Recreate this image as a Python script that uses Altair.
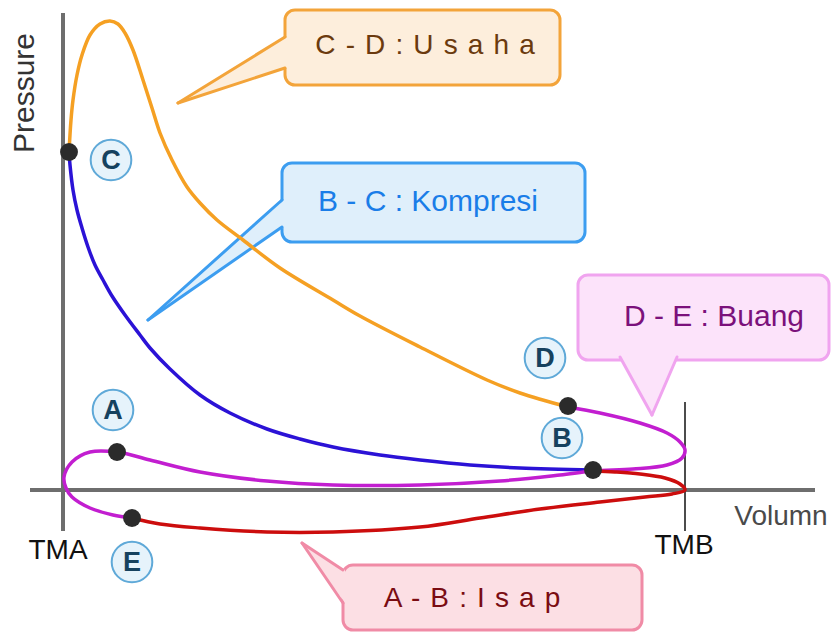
import altair as alt
import pandas as pd

# ---------------- data (volume V: TMA = 0, TMB = 622 ; pressure P: axis = 0) -------------
# C -> D : Usaha (power stroke)
usaha_v = [6, 8, 10, 14, 19, 27, 37, 47, 55, 62, 70, 80, 89, 97, 109, 124, 137, 154, 180, 217, 270, 297, 357, 424, 457, 505]
usaha_p = [338, 370, 390, 415, 435, 455, 466, 469, 466, 457, 440, 410, 382, 357, 330, 303, 287, 270, 250, 222, 190, 174, 143, 110, 97, 83]

# B -> C : Kompresi
kompresi_v = [6, 7, 10, 14, 19, 25, 32, 40, 49, 62, 77, 87, 107, 137, 167, 204, 237, 270, 317, 357, 407, 457, 530]
kompresi_p = [338, 325, 300, 280, 262, 243, 225, 210, 194, 175, 155, 142, 121, 95, 77, 61, 51, 43, 35, 30, 25, 22, 20]

# D -> E : Buang
buang_v = [505, 537, 577, 604, 617, 622, 619, 604, 570, 530, 497, 437, 357, 270, 204, 137, 87, 54, 27, 9, 1, 3, 9, 27, 50, 69]
buang_p = [83, 77, 67, 57, 48, 40, 32, 25, 21, 19, 15, 9, 5, 5, 9, 18, 30, 38, 38, 28, 13, 2, -7, -18, -25, -28]

# A -> B : Isap
isap_v = [69, 97, 137, 204, 270, 357, 417, 477, 537, 582, 609, 622, 617, 602, 577, 552, 530]
isap_p = [-28, -34, -38, -42, -42, -37, -28, -19, -12, -7, -4, 0, 6, 12, 16, 18, 19]

# state points
point_names = ["C", "A", "E", "D", "B"]
point_v = [6, 54, 69, 505, 530]
point_p = [338, 38, -28, 84, 20]
label_v = [48, 50, 69, 482, 499]
label_p = [330, 80, -72, 132, 52]

# axes
axis_v0 = [0, -33, 622]
axis_p0 = [477, 0, 88]
axis_v1 = [0, 752, 622]
axis_p1 = [-41, 0, -41]

# callouts: box (v0, v1, p0, p1), text anchor, pointer tip, pointer base
sep = " \u200a"
callout_names = ["usaha", "kompresi", "buang", "isap"]
callout_text = [sep.join(list("C-D:Usaha")), "B - C : Kompresi", "D - E : Buang", sep.join(list("A-B:Isap"))]
box_v0 = [222, 219, 515, 280]
box_v1 = [497, 522, 766, 579]
box_p0 = [405, 248, 130, -140]
box_p1 = [480, 327, 215, -75]
text_v = [362, 365, 651, 409]
text_p = [444, 288, 173, -109]
tip_v = [115, 85, 589, 239]
tip_p = [387, 170, 75, -53]
# pointer bases: for vertical-edge pointers (v, p_a, p_b); for bottom-edge pointer (p, v_a, v_b)
base_a = [(224, 453, 422), (221, 290, 263), (132, 557, 614), (282, -80, -113)]

# ---------------- styles ----------------
FONT = "Liberation Sans"
curve_colors = {"usaha": "#f5a023", "kompresi": "#2b12d6", "buang": "#c21ed0", "isap": "#cc0d0d"}
box_fill = {"usaha": "#fdeedc", "kompresi": "#dfeffb", "buang": "#fce3fa", "isap": "#fcdfe4"}
box_stroke = {"usaha": "#f3a43a", "kompresi": "#3c9df0", "buang": "#f0a4ef", "isap": "#f08ba6"}
text_color = {"usaha": "#6b3a0e", "kompresi": "#1a7de8", "buang": "#7b117b", "isap": "#7a0c12"}
text_size = {"usaha": 28, "kompresi": 30, "buang": 30, "isap": 28}

xs = alt.Scale(domain=[-55, 768], nice=False, zero=False)
ys = alt.Scale(domain=[-142, 482], nice=False, zero=False)


def X(f="v"):
    return alt.X(f"{f}:Q", scale=xs, axis=None)


def Y(f="p"):
    return alt.Y(f"{f}:Q", scale=ys, axis=None)


layers = []

# axes
axes_df = pd.DataFrame({"v": axis_v0, "p": axis_p0, "v2": axis_v1, "p2": axis_p1, "k": ["y", "x", "tmb"]})
layers.append(alt.Chart(axes_df[axes_df.k != "tmb"]).mark_rule(color="#6e6e6e", strokeWidth=4).encode(
    x=X(), y=Y(), x2="v2:Q", y2="p2:Q"))
layers.append(alt.Chart(axes_df[axes_df.k == "tmb"]).mark_rule(color="#111111", strokeWidth=1.5).encode(
    x=X(), y=Y(), x2="v2:Q", y2="p2:Q"))

# callout boxes + pointers
for i, name in enumerate(callout_names):
    bdf = pd.DataFrame({"v": [box_v0[i]], "v2": [box_v1[i]], "p": [box_p0[i]], "p2": [box_p1[i]]})
    layers.append(alt.Chart(bdf).mark_rect(fill=box_fill[name], stroke=box_stroke[name], strokeWidth=3,
                                           cornerRadius=10).encode(x=X(), x2="v2:Q", y=Y(), y2="p2:Q"))
    b = base_a[i]
    if name == "buang":
        adf = pd.DataFrame({"p": [b[0], tip_p[i]], "v": [b[1], tip_v[i]], "v2": [b[2], tip_v[i]]})
        layers.append(alt.Chart(adf).mark_area(orient="horizontal", color=box_fill[name], opacity=1).encode(
            y=Y(), x=X(), x2="v2:Q"))
        edges = pd.DataFrame({"v": [tip_v[i], tip_v[i]], "p": [tip_p[i], tip_p[i]],
                              "v2": [b[1], b[2]], "p2": [b[0] + 1, b[0] + 1]})
    else:
        adf = pd.DataFrame({"v": [tip_v[i], b[0]], "p": [tip_p[i], b[1]], "p2": [tip_p[i], b[2]]})
        layers.append(alt.Chart(adf).mark_area(orient="vertical", color=box_fill[name], opacity=1).encode(
            x=X(), y=Y(), y2="p2:Q"))
        edges = pd.DataFrame({"v": [tip_v[i], tip_v[i]], "p": [tip_p[i], tip_p[i]],
                              "v2": [b[0] - 2, b[0] - 2], "p2": [b[1], b[2]]})
    layers.append(alt.Chart(edges).mark_rule(color=box_stroke[name], strokeWidth=3, strokeCap="round").encode(
        x=X(), y=Y(), x2="v2:Q", y2="p2:Q"))
    tdf = pd.DataFrame({"v": [text_v[i]], "p": [text_p[i]], "t": [callout_text[i]]})
    layers.append(alt.Chart(tdf).mark_text(font=FONT, fontSize=text_size[name], color=text_color[name],
                                           align="center", baseline="middle").encode(
        x=X(), y=Y(), text="t:N"))

# cycle curves
for name, vv, pp in [("usaha", usaha_v, usaha_p), ("kompresi", kompresi_v, kompresi_p),
                     ("buang", buang_v, buang_p), ("isap", isap_v, isap_p)]:
    cdf = pd.DataFrame({"v": vv, "p": pp, "i": list(range(len(vv)))})
    layers.append(alt.Chart(cdf).mark_line(color=curve_colors[name], strokeWidth=3.5,
                                           interpolate="catmull-rom").encode(x=X(), y=Y(), order="i:Q"))

# state points
pdf = pd.DataFrame({"v": point_v, "p": point_p, "n": point_names})
layers.append(alt.Chart(pdf).mark_circle(size=320, color="#2b2b2b", opacity=1).encode(x=X(), y=Y()))
ldf = pd.DataFrame({"v": label_v, "p": label_p, "n": point_names})
layers.append(alt.Chart(ldf).mark_point(shape="circle", size=1650, filled=True, fill="#e6f3fb",
                                        stroke="#5fa9d8", strokeWidth=2, opacity=1).encode(x=X(), y=Y()))
layers.append(alt.Chart(ldf).mark_text(font=FONT, fontSize=27, fontWeight="bold", color="#16425f",
                                       baseline="middle", dy=1).encode(x=X(), y=Y(), text="n:N"))

# axis texts
ax_text = pd.DataFrame({"v": [718, -5, 621], "p": [-27, -61, -56], "t": ["Volumn", "TMA", "TMB"],
                        "c": ["g", "k", "k"]})
layers.append(alt.Chart(ax_text[ax_text.c == "g"]).mark_text(font=FONT, fontSize=28, color="#4a4a4a",
                                                             baseline="middle").encode(x=X(), y=Y(), text="t:N"))
layers.append(alt.Chart(ax_text[ax_text.c == "k"]).mark_text(font=FONT, fontSize=28, color="#111111",
                                                             baseline="middle").encode(x=X(), y=Y(), text="t:N"))
pr = pd.DataFrame({"v": [-38], "p": [397], "t": ["Pressure"]})
layers.append(alt.Chart(pr).mark_text(font=FONT, fontSize=30, color="#333333", angle=270,
                                      baseline="middle").encode(x=X(), y=Y(), text="t:N"))

chart = alt.layer(*layers).properties(
    width=823, height=624, padding=0, autosize="none", background="white"
).configure_view(stroke=None)

chart.save("out.html", embed_options={"renderer": "svg", "actions": False})
